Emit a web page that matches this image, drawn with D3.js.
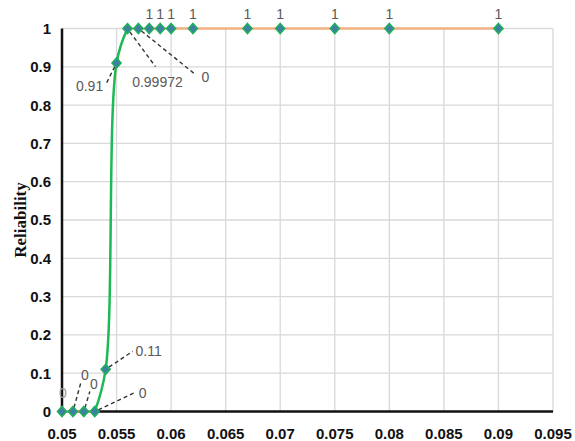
<!DOCTYPE html>
<html>
<head>
<meta charset="utf-8">
<script src="https://cdn.jsdelivr.net/npm/d3@7"></script>
<style>
  body { margin: 0; background: #fff; }
  text { font-family: "Liberation Sans Narrow", "Arial Narrow", "Liberation Sans", sans-serif; }
</style>
</head>
<body>
<script>
// data
var mValues = [0.05, 0.051, 0.052, 0.053, 0.054, 0.055, 0.056, 0.057, 0.058, 0.059, 0.06, 0.062, 0.067, 0.07, 0.075, 0.08, 0.09];
var reliability = [0, 0, 0, 0, 0.11, 0.91, 0.99972, 1, 1, 1, 1, 1, 1, 1, 1, 1, 1];
var pointLabels = ["0", "0", "0", "0", "0.11", "0.91", "0.99972", "0", "1", "1", "1", "1", "1", "1", "1", "1", "1"];
var fitRange = [0.053, 0.056];
var xTicks = [0.05, 0.055, 0.06, 0.065, 0.07, 0.075, 0.08, 0.085, 0.09, 0.095];
var yTicks = [0, 0.1, 0.2, 0.3, 0.4, 0.5, 0.6, 0.7, 0.8, 0.9, 1];

// label placement (pixel offsets from point): text dx,dy, leader end lx,ly
var labelPlace = [
  {dx: 1, dy: -19},
  {dx: 12, dy: -37, lx: 8, ly: -29},
  {dx: 10, dy: -28, lx: 6, ly: -20},
  {dx: 48, dy: -19, lx: 40, ly: -19},
  {dx: 43, dy: -18, lx: 27, ly: -18},
  {dx: -27, dy: 23, lx: -11, ly: 22},
  {dx: 30, dy: 53, lx: 28, ly: 38},
  {dx: 67, dy: 48, lx: 57, ly: 46}
];

var W = 575, H = 441;
var margin = {left: 62, right: 22, top: 28, bottom: 30};

var svg = d3.select("body").append("svg").attr("width", W).attr("height", H);

var x = d3.scaleLinear().domain([0.05, 0.095]).range([margin.left, W - margin.right]);
var y = d3.scaleLinear().domain([0, 1]).range([H - margin.bottom + 0.5, margin.top + 0.5]);

var pts = mValues.map(function (d, i) { return {x: d, y: reliability[i], label: pointLabels[i], i: i}; });

// grid
svg.selectAll("line.vgrid")
  .data(xTicks.slice(1))
  .enter().append("line")
    .attr("class", "vgrid")
    .attr("x1", function (d) { return x(d); })
    .attr("x2", function (d) { return x(d); })
    .attr("y1", y(1))
    .attr("y2", y(0))
    .attr("stroke", "#d9d9d9")
    .attr("stroke-width", 1.3);

svg.selectAll("line.hgrid")
  .data(yTicks.slice(1))
  .enter().append("line")
    .attr("class", "hgrid")
    .attr("x1", x(0.05))
    .attr("x2", x(0.095))
    .attr("y1", function (d) { return y(d); })
    .attr("y2", function (d) { return y(d); })
    .attr("stroke", "#d9d9d9")
    .attr("stroke-width", 1.3);

// axes lines
svg.append("line")
  .attr("x1", x(0.05)).attr("x2", x(0.05))
  .attr("y1", y(1)).attr("y2", y(0) + 1)
  .attr("stroke", "#111").attr("stroke-width", 2.5);
svg.append("line")
  .attr("x1", x(0.05) - 1).attr("x2", x(0.095))
  .attr("y1", y(0)).attr("y2", y(0))
  .attr("stroke", "#111").attr("stroke-width", 2.5);

// tick labels
svg.selectAll("text.ytick")
  .data(yTicks)
  .enter().append("text")
    .attr("class", "ytick")
    .attr("x", 51)
    .attr("y", function (d) { return y(d); })
    .attr("dy", "0.36em")
    .attr("text-anchor", "end")
    .attr("font-size", 15)
    .attr("font-weight", "bold")
    .attr("fill", "#111")
    .text(function (d) { return d; });

svg.selectAll("text.xtick")
  .data(xTicks)
  .enter().append("text")
    .attr("class", "xtick")
    .attr("x", function (d) { return x(d); })
    .attr("y", 439)
    .attr("text-anchor", "middle")
    .attr("font-size", 15)
    .attr("font-weight", "bold")
    .attr("fill", "#111")
    .text(function (d) { return d; });

svg.append("text")
  .attr("transform", "translate(26," + y(0.5) + ") rotate(-90)")
  .attr("text-anchor", "middle")
  .attr("font-size", 17)
  .attr("font-weight", "bold")
  .attr("fill", "#111")
  .style("font-family", "'Liberation Serif', 'Times New Roman', serif")
  .text("Reliability");

// orange series line (flat parts)
var orangeLine = d3.line()
  .defined(function (d) { return !(d.x > fitRange[0] && d.x < fitRange[1]); })
  .x(function (d) { return x(d.x); })
  .y(function (d) { return y(d.y); });

svg.append("path")
  .datum(pts)
  .attr("d", orangeLine)
  .attr("fill", "none")
  .attr("stroke", "#f4b183")
  .attr("stroke-width", 2.5);

// green smooth transition curve
var greenLine = d3.line()
  .curve(d3.curveCatmullRom.alpha(0.5))
  .x(function (d) { return x(d.x); })
  .y(function (d) { return y(d.y); });

svg.append("path")
  .datum(pts.filter(function (d) { return d.x >= fitRange[0] && d.x <= fitRange[1]; }))
  .attr("d", greenLine)
  .attr("fill", "none")
  .attr("stroke", "#1db954")
  .attr("stroke-width", 2.5);

// leader lines
svg.selectAll("line.leader")
  .data(pts.filter(function (d) { return labelPlace[d.i] && labelPlace[d.i].lx !== undefined; }))
  .enter().append("line")
    .attr("class", "leader")
    .attr("x1", function (d) {
      var p = labelPlace[d.i], len = Math.hypot(p.lx, p.ly);
      return x(d.x) + p.lx / len * 4;
    })
    .attr("y1", function (d) {
      var p = labelPlace[d.i], len = Math.hypot(p.lx, p.ly);
      return y(d.y) + p.ly / len * 4;
    })
    .attr("x2", function (d) { return x(d.x) + labelPlace[d.i].lx; })
    .attr("y2", function (d) { return y(d.y) + labelPlace[d.i].ly; })
    .attr("stroke", "#333")
    .attr("stroke-width", 1.4)
    .attr("stroke-dasharray", "4,3");

// markers
var diamond = function (d) {
  var cx = x(d.x), cy = y(d.y);
  return "M" + cx + "," + (cy - 5) + "L" + (cx + 4.5) + "," + cy + "L" + cx + "," + (cy + 5) + "L" + (cx - 4.5) + "," + cy + "Z";
};
svg.selectAll("path.marker")
  .data(pts)
  .enter().append("path")
    .attr("class", "marker")
    .attr("d", diamond)
    .attr("fill", "#3f7ea6")
    .attr("stroke", "#1fae5a")
    .attr("stroke-width", 1.6);

// data labels
svg.selectAll("text.dlabel")
  .data(pts)
  .enter().append("text")
    .attr("class", "dlabel")
    .attr("x", function (d) { var p = labelPlace[d.i]; return x(d.x) + (p ? p.dx : 0); })
    .attr("y", function (d) { var p = labelPlace[d.i]; return y(d.y) + (p ? p.dy : -15); })
    .attr("dy", "0.36em")
    .attr("text-anchor", "middle")
    .attr("font-size", 14)
    .attr("fill", function (d) { return d.i === 0 ? "#9a9a9a" : "#595959"; })
    .text(function (d) { return d.label; });
</script>
</body>
</html>
